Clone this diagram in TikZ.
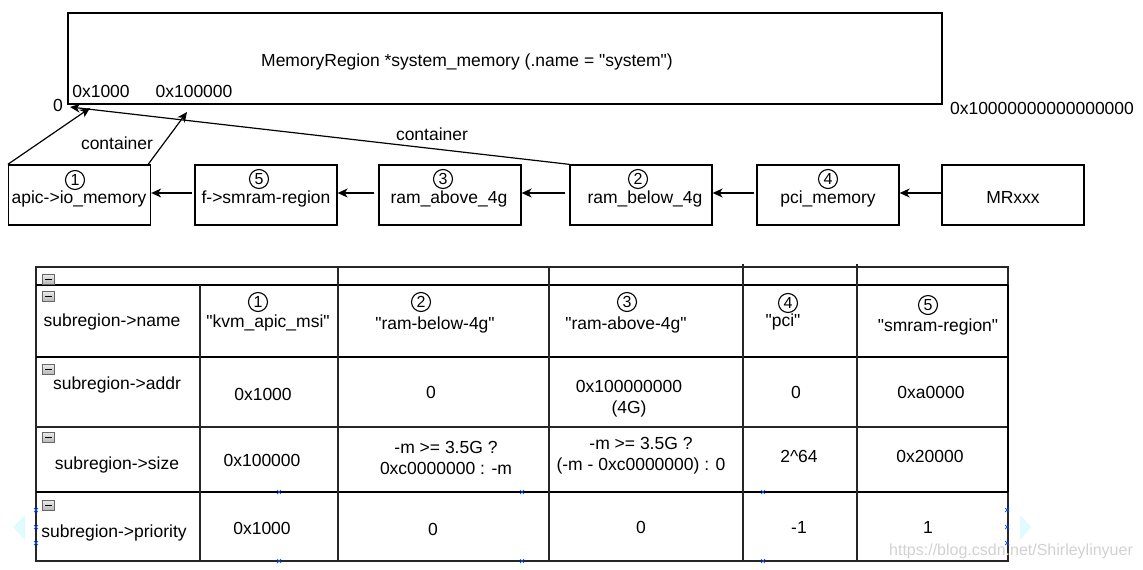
\documentclass[tikz,border=0pt]{standalone}
\usepackage{fontspec}
\newfontfamily\plainfont{Liberation Sans}
\usetikzlibrary{arrows.meta}
\newcommand{\qq}{\symbol{34}}
\tikzset{
  txt/.style={font=\plainfont\fontsize{17.5}{21}\selectfont, inner sep=0pt, align=center},
  cir/.style={circle, draw, line width=1.1pt, minimum size=19pt, inner sep=0pt, font=\plainfont\fontsize{16}{16}\selectfont},
  mbox/.style={draw, line width=1.3pt, minimum width=142pt, minimum height=60pt, inner sep=0pt},
  arr/.style={line width=1.2pt, -{Stealth[length=10pt,width=9pt,inset=3pt]}},
  tline/.style={line width=1.2pt, draw=black!85},
  thick line/.style={line width=2pt},
  minus/.style={draw=gray!80!black, line width=0.6pt, top color=gray!15, bottom color=gray!55},
  handle/.style={draw=blue!70!cyan, line width=0.7pt},
  navtri/.style={fill=blue!15!cyan!12},
}
\begin{document}
\begin{tikzpicture}[x=1pt,y=-1pt]
\useasboundingbox (0,0) rectangle (1143,570);
% big system memory box
\node[draw, line width=1.3pt, minimum width=874pt, minimum height=91pt, inner sep=0pt] (sys) at (505,58.5) {};
\node[txt] (systxt) at (467,62) {MemoryRegion *system\_memory (.name = "system")};
\node[txt] (a1000) at (101,91) {0x1000};
\node[txt] (a100000) at (194,91) {0x100000};
\node[txt] (zero) at (58,105) {0};
\node[txt] (top) at (1042,108) {0x10000000000000000};
% row of memory regions
\node[mbox] (b1) at (79.5,195) {};
\node[mbox] (b5) at (266,195) {};
\node[mbox] (b3) at (450,195) {};
\node[mbox] (b2) at (641,195) {};
\node[mbox] (b4) at (828,195) {};
\node[mbox] (bx) at (1013,195) {};
\node[cir] (c1) at (75,180) {1};
\node[txt] (t1) at (79,199) {apic->io\_memory};
\node[cir] (c5) at (259,179) {5};
\node[txt] (t5) at (266,199) {f->smram-region};
\node[cir] (c3) at (443,179) {3};
\node[txt] (t3) at (449,199) {ram\_above\_4g};
\node[cir] (c2) at (638,179) {2};
\node[txt] (t2) at (645,199) {ram\_below\_4g};
\node[cir] (c4) at (828,179) {4};
\node[txt] (t4) at (828,199) {pci\_memory};
\node[txt] (tx) at (1013,197) {MRxxx};
% horizontal arrows
\draw[arr] ([yshift=2pt]bx.west) -- ([yshift=2pt]b4.east);
\draw[arr] ([yshift=2pt,xshift=-2pt]b4.west) -- ([yshift=2pt]b2.east);
\draw[arr] ([yshift=2pt,xshift=-4pt]b2.west) -- ([yshift=2pt]b3.east);
\draw[arr] ([yshift=2pt,xshift=-4pt]b3.west) -- ([yshift=2pt]b5.east);
\draw[arr] ([yshift=2pt,xshift=-2pt]b5.west) -- ([yshift=2pt]b1.east);
% container arrows
\coordinate (p1) at (90,108);
\coordinate (p2) at (187,112);
\coordinate (p0) at (70,107);
\draw[arr] (b1.north west) -- (p1);
\draw[arr] ([xshift=-3pt]b1.north east) -- (p2);
\draw[arr] (b2.north west) -- (p0);
\node[txt] (cont1) at (117,143) {container};
\node[txt] (cont2) at (432,134) {container};
% table grid
\draw[tline] (36,267) rectangle (1008,561);
\draw[thick line] (36,285) -- (1008,285);
\draw[thick line] (36,357) -- (1008,357);
\draw[tline] (36,427) -- (1008,427);
\draw[thick line] (36,492) -- (1008,492);
\draw[thick line] (1008,285) -- (1008,492);
\draw[tline] (200,285) -- (200,561);
\draw[tline] (338,267) -- (338,561);
\draw[tline] (549,267) -- (549,561);
\draw[tline] (743,264) -- (743,561);
\draw[tline] (857,264) -- (857,561);
% minus icons
\foreach \yy in {279,296,369,437,505}{
  \draw[minus] (42.5,\yy-5) rectangle (54.5,\yy+5);
  \draw[line width=1pt] (45,\yy) -- (52,\yy);
}
% table texts
\node[txt] (h1) at (112,322) {subregion->name};
\node[txt] (h2) at (117,385) {subregion->addr};
\node[txt] (h3) at (117,465) {subregion->size};
\node[txt] (h4) at (114,533) {subregion->priority};
\node[cir] (n1c) at (258,302) {1};
\node[txt] (n1) at (268,323) {"kvm\_apic\_msi"};
\node[cir] (n2c) at (421,302) {2};
\node[txt] (n2) at (435,325) {"ram-below-4g"};
\node[cir] (n3c) at (627,302) {3};
\node[txt] (n3) at (626,325) {"ram-above-4g"};
\node[cir] (n4c) at (788,303) {4};
\node[txt] (n4) at (783,322) {"pci"};
\node[cir] (n5c) at (928,305) {5};
\node[txt] (n5) at (938,327) {"smram-region"};
\node[txt] (d1) at (263,394) {0x1000};
\node[txt] (d2) at (431,392) {0};
\node[txt] (d3) at (629,399) {0x100000000\\(4G)};
\node[txt] (d4) at (796,392) {0};
\node[txt] (d5) at (931,392) {0xa0000};
\node[txt] (s1) at (262,460) {0x100000};
\node[txt] (s2) at (446,458) {-m >= 3.5G ?\\0xc0000000 : -m};
\node[txt] (s3) at (641,456) {-m >= 3.5G ?\\(-m - 0xc0000000) : 0};
\node[txt] (s4) at (799,456) {2\^{}64};
\node[txt] (s5) at (930,456) {0x20000};
\node[txt] (r1) at (262,528) {0x1000};
\node[txt] (r2) at (433,529) {0};
\node[txt] (r3) at (641,527) {0};
\node[txt] (r4) at (799,527) {-1};
\node[txt] (r5) at (928,527) {1};
% selection handles
\foreach \hx/\hy in {279/492,279/561,522/492,522/561,763/492,763/561,36/510,36/527,36/543,1007/510,1007/527,1007/543}{
  \draw[handle] (\hx-2,\hy-2) -- (\hx+2,\hy+2) (\hx-2,\hy+2) -- (\hx+2,\hy-2);
}
\fill[navtri] (13,527) -- (25,515) -- (25,540) -- cycle;
\fill[navtri] (1020,515) -- (1031,527) -- (1020,540) -- cycle;
\node[txt, text=black!18, font=\plainfont\fontsize{16}{18}\selectfont] (wm) at (1011,551) {https://blog.csdn.net/Shirleylinyuer};
\end{tikzpicture}
\end{document}
